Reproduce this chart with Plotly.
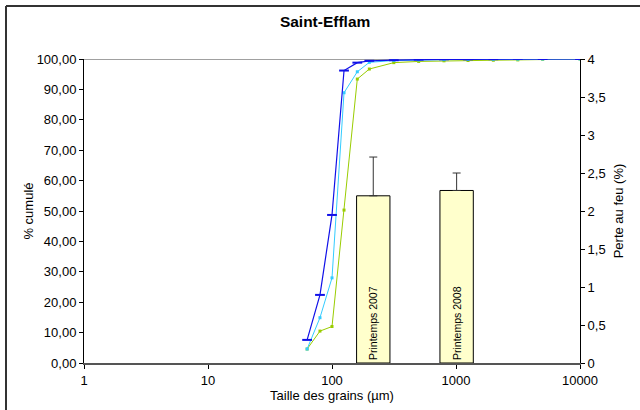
import plotly.graph_objects as go

sizes = [63, 80, 100, 125, 160, 200, 315, 500, 800, 1250, 2000, 3150, 5000, 10000]
blue = [7.6, 22.4, 48.7, 96.2, 98.8, 99.4, 99.6, 99.8, 99.9, 99.9, 99.95, 100.1, 100, 100]
cyan = [4.6, 14.9, 28.0, 88.9, 95.8, 98.9, 99.5, 99.7, 99.8, 99.85, 99.9, 99.95, 100, 100]
green = [4.6, 10.5, 12.0, 50.3, 93.4, 96.7, 98.8, 99.2, 99.4, 99.5, 99.6, 99.7, 99.9, 100]

bar_labels = ["Printemps 2007", "Printemps 2008"]
bar_values = [2.2, 2.27]
bar_err_plus = [0.51, 0.23]

yticks_left = [0, 10, 20, 30, 40, 50, 60, 70, 80, 90, 100]
yticks_right = [0, 0.5, 1, 1.5, 2, 2.5, 3, 3.5, 4]
xticks = [1, 10, 100, 1000, 10000]

FONT = "Liberation Sans, Arial, sans-serif"
FS = 13

fig = go.Figure()

fig.add_trace(go.Bar(
    x=bar_labels, y=bar_values, xaxis="x2", yaxis="y2",
    width=0.4,
    marker=dict(color="#FFFFCC", line=dict(color="black", width=1)),
    error_y=dict(type="data", symmetric=False, array=bar_err_plus,
                 arrayminus=[0, 0], color="#333333", thickness=1, width=4),
    text=bar_labels, textposition="inside", insidetextanchor="start",
    textangle=-90, constraintext="none",
    textfont=dict(family=FONT, size=10.5, color="black"),
    showlegend=False, hoverinfo="skip",
))

fig.add_trace(go.Scatter(
    x=sizes, y=green, mode="lines+markers",
    line=dict(color="#99CC00", width=1),
    marker=dict(symbol="square", size=3, color="#99CC00"),
    showlegend=False,
))
fig.add_trace(go.Scatter(
    x=sizes, y=cyan, mode="lines+markers",
    line=dict(color="#33CCFF", width=1),
    marker=dict(symbol="square", size=3, color="#33CCFF"),
    showlegend=False,
))
fig.add_trace(go.Scatter(
    x=sizes, y=blue, mode="lines+markers",
    line=dict(color="#1010E8", width=1.2),
    marker=dict(symbol="line-ew", size=7, line=dict(color="#1010E8", width=2)),
    showlegend=False,
))

TOP_BORDER = (410 - 6 - 47) / 304

fig.update_layout(
    width=640, height=410,
    margin=dict(l=84, r=60, t=59, b=47),
    paper_bgcolor="white", plot_bgcolor="white",
    separators=", ",
    font=dict(family=FONT, size=FS, color="black"),
    title=dict(text="<b>Saint-Efflam</b>", x=0.508, xanchor="center",
               y=1 - 22 / 410, yanchor="middle",
               font=dict(family=FONT, size=15.5, color="black")),
    xaxis=dict(type="log", range=[0, 4], tickvals=xticks,
               ticktext=[str(v) for v in xticks],
               showgrid=False, zeroline=False,
               showline=True, linecolor="#555555", linewidth=2,
               ticks="outside", ticklen=4, tickcolor="black",
               tickfont=dict(size=FS),
               title=dict(text="Taille des grains (µm)", standoff=0,
                          font=dict(size=FS))),
    yaxis=dict(range=[0, 100], tickvals=yticks_left, tickformat=".2f",
               showgrid=False, zeroline=False,
               showline=True, linecolor="black", linewidth=1,
               ticks="outside", ticklen=4, tickcolor="black",
               tickfont=dict(size=FS),
               title=dict(text="% cumulé", standoff=0, font=dict(size=FS))),
    xaxis2=dict(type="category", overlaying="x", range=[-3.47, 2.48],
                visible=False),
    yaxis2=dict(overlaying="y", side="right", range=[0, 4],
                tickvals=yticks_right,
                showgrid=False, zeroline=False,
                showline=True, linecolor="black", linewidth=1,
                ticks="outside", ticklen=4, tickcolor="black",
                tickfont=dict(size=FS),
                title=dict(text="Perte au feu (%)", standoff=9,
                           font=dict(size=FS))),
    shapes=[
        dict(type="line", xref="x domain", yref="y", x0=0, x1=1, y0=100, y1=100,
             line=dict(color="#808080", width=1.5), layer="below"),
        dict(type="line", xref="paper", yref="paper",
             x0=-78 / 496, x1=-78 / 496, y0=-2, y1=TOP_BORDER,
             line=dict(color="#333333", width=2)),
        dict(type="line", xref="paper", yref="paper",
             x0=-78 / 496, x1=2, y0=TOP_BORDER, y1=TOP_BORDER,
             line=dict(color="#333333", width=2)),
    ],
)

fig.write_html("out.html", config={"displayModeBar": False},
               post_script="document.body.style.margin='0px';document.body.style.overflow='hidden';")
